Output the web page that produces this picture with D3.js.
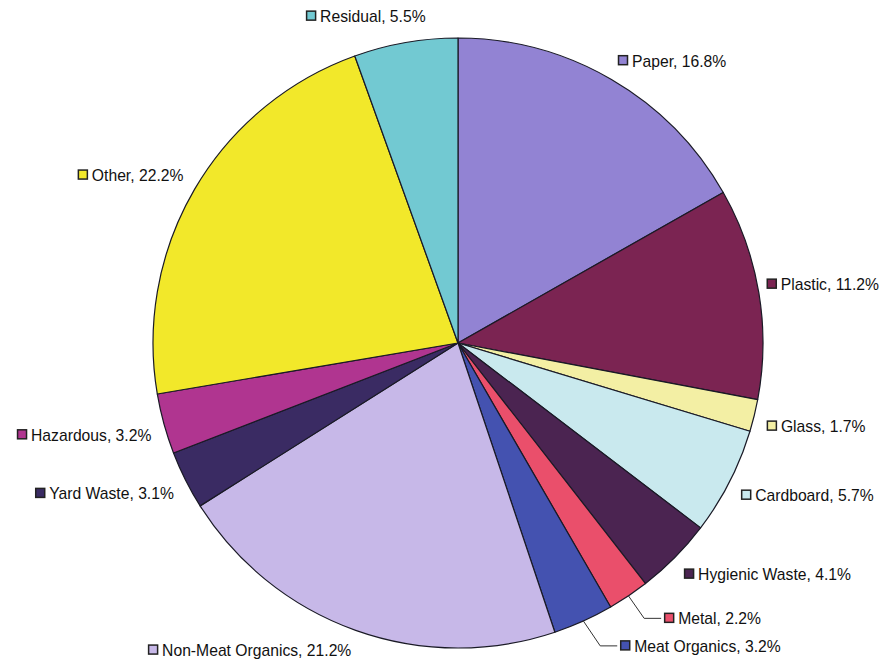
<!DOCTYPE html>
<html>
<head>
<meta charset="utf-8">
<script src="https://cdn.jsdelivr.net/npm/d3@7"></script>
<style>
  html, body { margin: 0; padding: 0; background: #ffffff; }
  svg { display: block; }
  text { font-family: "Liberation Sans", Arial, sans-serif; }
</style>
</head>
<body>
<div id="chart"></div>
<script>
// Waste composition by category (percent of total)
const categories = [
  "Paper", "Plastic", "Glass", "Cardboard", "Hygienic Waste", "Metal",
  "Meat Organics", "Non-Meat Organics", "Yard Waste", "Hazardous", "Other", "Residual"
];
const shares = [16.8, 11.2, 1.7, 5.7, 4.1, 2.2, 3.2, 21.2, 3.1, 3.2, 22.2, 5.5];
const colors = [
  "#9283d3", "#7b2452", "#f3efa4", "#c9e9ee", "#4b2451", "#ea4f6b",
  "#4452b0", "#c7b8e8", "#3a2b63", "#b03590", "#f2e82a", "#72c9d2"
];

const width = 886, height = 667;
const cx = 458, cy = 343, radius = 305;

const svg = d3.select("#chart").append("svg")
  .attr("width", width).attr("height", height);

const data = categories.map((c, i) => ({ name: c, value: shares[i], color: colors[i] }));

const pie = d3.pie().sort(null).value(d => d.value);
const arcs = pie(data);
const arc = d3.arc().innerRadius(0).outerRadius(radius);

const g = svg.append("g").attr("transform", `translate(${cx},${cy})`);

g.selectAll("path.slice")
  .data(arcs)
  .join("path")
  .attr("class", "slice")
  .attr("d", arc)
  .attr("fill", d => d.data.color)
  .attr("stroke", "#1a1a26")
  .attr("stroke-width", 1.2)
  .attr("stroke-linejoin", "round");

// Label layout: the box corner nearest the centre sits on a circle around the pie.
const labelRadius = 318;
// Per-label adjustments; small slices get their labels pushed out with a leader line.
const nudges = {
  "Plastic": { r: 313, da: 0, line: false },
  "Metal": { r: 338, da: -3.6, line: true },
  "Meat Organics": { r: 337, da: -4.5, line: true },
  "Residual": { r: 321, da: 4.1, line: false }
};

const fontSize = 15.7, sq = 10, gap = 4, boxH = 15;

const labels = svg.append("g");

arcs.forEach(a => {
  const mid = (a.startAngle + a.endAngle) / 2;
  const lay = nudges[a.data.name];
  const ang = lay ? mid + lay.da * Math.PI / 180 : mid;
  const r = lay ? lay.r : labelRadius;
  const px = cx + r * Math.sin(ang);
  const py = cy - r * Math.cos(ang);

  const lg = labels.append("g");
  const txt = lg.append("text")
    .attr("font-size", fontSize)
    .attr("fill", "#111")
    .attr("dominant-baseline", "central")
    .text(`${a.data.name}, ${a.data.value.toFixed(1)}%`);
  const tw = txt.node().getComputedTextLength();
  const w = sq + gap + tw;

  const left = Math.sin(ang) >= 0 ? px : px - w;
  const top = Math.cos(ang) >= 0 ? py - boxH : py;
  const midY = top + boxH / 2;

  lg.append("rect")
    .attr("x", left + 0.5).attr("y", midY - sq / 2)
    .attr("width", sq - 1).attr("height", sq - 1)
    .attr("fill", a.data.color)
    .attr("stroke", "#222").attr("stroke-width", 1.5);
  txt.attr("x", left + sq + gap).attr("y", midY + 0.5);

  if (lay && lay.line) {
    const ex = cx + radius * Math.sin(mid), ey = cy - radius * Math.cos(mid);
    const elbowX = left - 20;
    labels.append("polyline")
      .attr("points", `${ex},${ey} ${elbowX},${midY} ${left - 3},${midY}`)
      .attr("fill", "none")
      .attr("stroke", "#333")
      .attr("stroke-width", 1);
  }
});
</script>
</body>
</html>
